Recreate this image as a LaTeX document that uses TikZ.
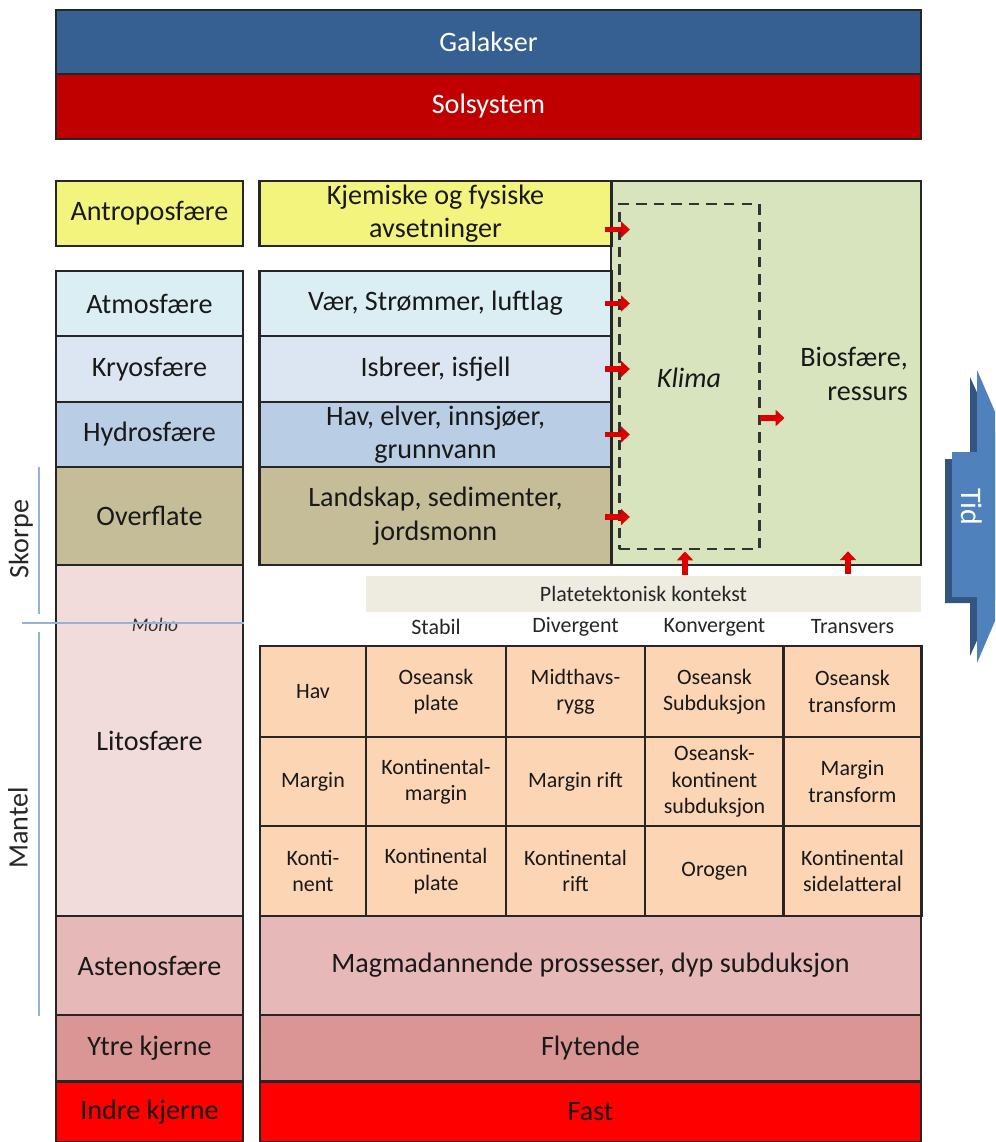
\documentclass[tikz,border=0pt]{standalone}
\usepackage{fontspec}
\setmainfont{Carlito}
\usepackage{tikz}
\usetikzlibrary{positioning, calc, arrows.meta}

\begin{document}
\begin{tikzpicture}[x=0.02cm, y=-0.02cm,
    lay/.style 2 args={draw=black!85, line width=1.5pt, inner sep=0pt, minimum width=#1*0.02cm, minimum height=#2*0.02cm, align=center, font=\fontsize{16}{19}\selectfont, text=black!90},
    cellbox/.style 2 args={draw=black!85, line width=1.2pt, fill=cGrid, inner sep=0pt, minimum width=#1*0.02cm, minimum height=#2*0.02cm, align=center, font=\fontsize{12.5}{15}\selectfont, text=black!90},
    collabel/.style={font=\fontsize{12.5}{15}\selectfont, text=black!85},
    lbl/.style={font=\fontsize{16}{19}\selectfont, text=black!90, align=right},
    side/.style={rotate=90, font=\fontsize{16}{19}\selectfont, text=black!85},
    bluelin/.style={draw=cLine, line width=1.3pt},
    redarr/.style={draw=cArrow, line width=3.2pt, -{Triangle[length=5pt,width=9pt]}}]

\definecolor{cGal}{HTML}{376092}
\definecolor{cSol}{HTML}{C00000}
\definecolor{cAntro}{HTML}{F2F47E}
\definecolor{cAtmo}{HTML}{DBEEF4}
\definecolor{cKryo}{HTML}{DCE6F2}
\definecolor{cHydro}{HTML}{B9CDE5}
\definecolor{cOver}{HTML}{C4BD97}
\definecolor{cLito}{HTML}{F2DCDB}
\definecolor{cAsten}{HTML}{E6B9B8}
\definecolor{cYtre}{HTML}{D99694}
\definecolor{cIndre}{HTML}{FF0000}
\definecolor{cGrid}{HTML}{FCD5B5}
\definecolor{cBio}{HTML}{D7E4BD}
\definecolor{cBanner}{HTML}{EEECE1}
\definecolor{cLine}{HTML}{95B3D7}
\definecolor{cArrow}{HTML}{DD0000}
\definecolor{cTid}{HTML}{4F81BD}
\definecolor{cTidDark}{HTML}{34557F}

\pgfmathsetmacro{\cA}{313}
\pgfmathsetmacro{\cB}{436}
\pgfmathsetmacro{\cC}{575.5}
\pgfmathsetmacro{\cD}{714.5}
\pgfmathsetmacro{\cE}{852.5}
\pgfmathsetmacro{\rA}{691.5}
\pgfmathsetmacro{\rB}{781.5}
\pgfmathsetmacro{\rC}{871}

\useasboundingbox (0,0) rectangle (995,1142);

% GALAKSER / SOLSYSTEM
\node[lay={865}{64}, fill=cGal, text=white] (galakser) at (488.5,42) {Galakser};
\node[lay={865}{65}, fill=cSol, text=white] (solsystem) at (488.5,106.5) {Solsystem};

% Venstre kolonne (sfærer)
\node[lay={187}{65}, fill=cAntro] (antropo) at (149.5,213.5) {Antroposfære};
\node[lay={187}{65}, fill=cAtmo] (atmo) at (149.5,303.5) {Atmosfære};
\node[lay={187}{66}, fill=cKryo] (kryo) at (149.5,369) {Kryosfære};
\node[lay={187}{65}, fill=cHydro] (hydro) at (149.5,434.5) {Hydrosfære};
\node[lay={187}{98}, fill=cOver] (overfl) at (149.5,516) {Overflate};
\node[lay={187}{351}, fill=cLito] (lito) at (149.5,740.5) {Litosfære};
\node[lay={187}{99}, fill=cAsten] (asteno) at (149.5,965.5) {Astenosfære};
\node[lay={187}{66}, fill=cYtre] (ytre) at (149.5,1048) {Ytre kjerne};
\node[lay={187}{61}, fill=cIndre] (indre) at (149.5,1112) {Indre kjerne};

% Biosfære og klima
\node[lay={310}{384}, fill=cBio] (biosf) at (766,373) {};
\node[lbl, anchor=east] (biotxt) at (914,374) {Biosfære,\\ressurs};
\node[draw=black!80, line width=1.7pt, dash pattern=on 6pt off 4pt, minimum width=140*0.02cm, minimum height=345*0.02cm] (klimabox) at (689,376.5) {};
\node[lbl, font=\fontsize{16}{19}\selectfont\itshape] (klima) at (689,378) {Klima};

% Høyre kolonne (prosesser)
\node[lay={352}{65}, fill=cAntro] (kjem) at (435.5,213.5) {Kjemiske og fysiske\\avsetninger};
\node[lay={352}{65}, fill=cAtmo] (vaer) at (435.5,303.5) {Vær, Strømmer, luftlag};
\node[lay={352}{66}, fill=cKryo] (isbre) at (435.5,369) {Isbreer, isfjell};
\node[lay={352}{65}, fill=cHydro] (hav) at (435.5,434.5) {Hav, elver, innsjøer,\\grunnvann};
\node[lay={352}{98}, fill=cOver] (landsk) at (435.5,516) {Landskap, sedimenter,\\jordsmonn};

% Platetektonisk kontekst
\node[collabel, fill=cBanner, minimum width=555*0.02cm, minimum height=36*0.02cm] (plate) at (643.5,594) {Platetektonisk kontekst};
\node[collabel] (stabil) at (\cB,627) {Stabil};
\node[collabel] (diverg) at (\cC,627) {Divergent};
\node[collabel] (konverg) at (\cD,627) {Konvergent};
\node[collabel] (transv) at (\cE,627) {Transvers};

% Rad 1: Hav
\node[cellbox={106}{91}] (havA) at (\cA,\rA) {Hav};
\node[cellbox={140}{91}] (havB) at (\cB,\rA) {Oseansk\\plate};
\node[cellbox={139}{91}] (havC) at (\cC,\rA) {Midthavs-\\rygg};
\node[cellbox={139}{91}] (havD) at (\cD,\rA) {Oseansk\\Subduksjon};
\node[cellbox={138}{91}] (havE) at (\cE,\rA) {Oseansk\\transform};

% Rad 2: Margin
\node[cellbox={106}{89}] (marA) at (\cA,\rB) {Margin};
\node[cellbox={140}{89}] (marB) at (\cB,\rB) {Kontinental-\\margin};
\node[cellbox={139}{89}] (marC) at (\cC,\rB) {Margin rift};
\node[cellbox={139}{89}] (marD) at (\cD,\rB) {Oseansk-\\kontinent\\subduksjon};
\node[cellbox={138}{89}] (marE) at (\cE,\rB) {Margin\\transform};

% Rad 3: Kontinent
\node[cellbox={106}{90}] (konA) at (\cA,\rC) {Konti-\\nent};
\node[cellbox={140}{90}] (konB) at (\cB,\rC) {Kontinental\\plate};
\node[cellbox={139}{90}] (konC) at (\cC,\rC) {Kontinental\\rift};
\node[cellbox={139}{90}] (konD) at (\cD,\rC) {Orogen};
\node[cellbox={138}{90}] (konE) at (\cE,\rC) {Kontinental\\sidelatteral};

% Mantel og kjerne
\node[lay={661}{99}, fill=cAsten] (magma) at (590.5,965.5) {Magmadannende prossesser, dyp subduksjon};
\node[lay={661}{66}, fill=cYtre] (flyt) at (590.5,1048) {Flytende};
\node[lay={661}{61}, fill=cIndre] (fast) at (590.5,1112) {Fast};

% Skorpe / Mantel / Moho
\node[side] (skorpe) at (21,539) {Skorpe};
\node[side] (mantel) at (18,828) {Mantel};
\coordinate (skA) at (39,467);
\coordinate (skB) at (39,614);
\coordinate (maA) at (39,632);
\coordinate (maB) at (39,1016);
\draw[bluelin] (skA) -- (skB);
\draw[bluelin] (maA) -- (maB);
\node[font=\fontsize{11}{13}\selectfont\itshape, text=black!80] (moho) at (155,625) {Moho};
\coordinate (mohoL) at (22,623);
\draw[bluelin, line width=0.8pt] (mohoL) -- (mohoL -| lito.east);

% Piler
\draw[redarr] ($(kjem.east)+(-8,16)$) -- ($(kjem.east)+(17,16)$);
\draw[redarr] ($(vaer.east)+(-8,0)$) -- ($(vaer.east)+(17,0)$);
\draw[redarr] ($(isbre.east)+(-8,0)$) -- ($(isbre.east)+(17,0)$);
\draw[redarr] ($(hav.east)+(-8,0)$) -- ($(hav.east)+(17,0)$);
\draw[redarr] ($(landsk.east)+(-8,1)$) -- ($(landsk.east)+(17,1)$);
\draw[redarr] ($(klimabox.east)+(-1,41.5)$) -- ($(klimabox.east)+(24,41.5)$);
\draw[redarr] ($(klimabox.south)+(-4,25)$) -- ($(klimabox.south)+(-4,1)$);
\draw[redarr] ($(biosf.south)+(82,8)$) -- ($(biosf.south)+(82,-15)$);

% Tid
\begin{scope}
\clip (0,0) rectangle (995,1142);
\fill[cTidDark] (945,459) -- (970,459) -- (970,377) -- (1033,516) -- (970,656) -- (970,603) -- (945,603) -- cycle;
\fill[cTid] (952,452) -- (977,452) -- (977,370) -- (1040,516) -- (977,663) -- (977,597) -- (952,597) -- cycle;
\end{scope}
\node[rotate=-90, text=white, font=\fontsize{17}{20}\selectfont] (tid) at (972,507) {Tid};

\end{tikzpicture}
\end{document}
